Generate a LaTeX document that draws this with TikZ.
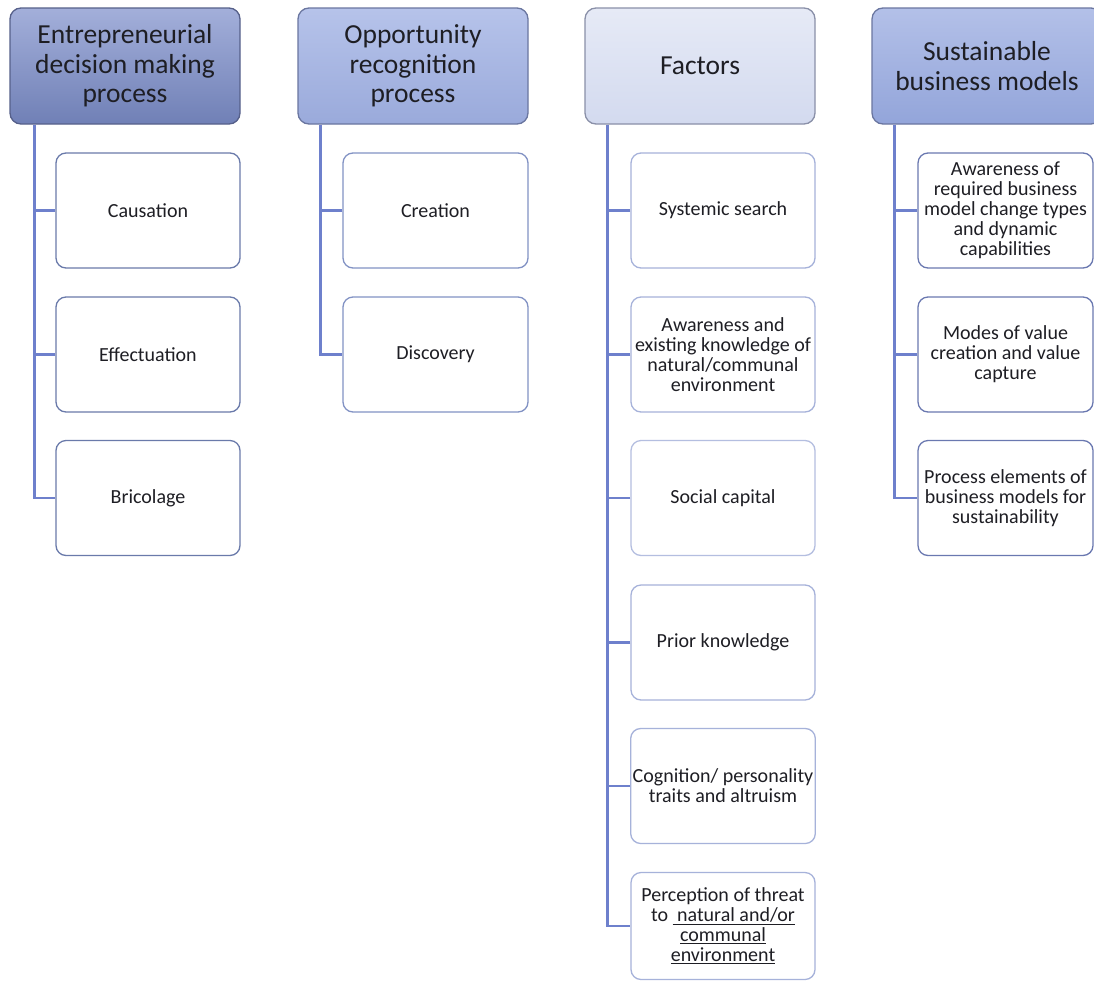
\documentclass[tikz,border=0pt]{standalone}
\usepackage{fontspec}
\setmainfont{Carlito}
\definecolor{lineblue}{HTML}{6E80CC}
\definecolor{txt}{HTML}{1E1E24}
\definecolor{hbA}{HTML}{56608A}\definecolor{htA}{HTML}{A3AFDA}\definecolor{hmA}{HTML}{7080B6}
\definecolor{hbB}{HTML}{6A76A0}\definecolor{htB}{HTML}{B6C3EA}\definecolor{hmB}{HTML}{9AAADB}
\definecolor{hbC}{HTML}{8A90A8}\definecolor{htC}{HTML}{E6EAF6}\definecolor{hmC}{HTML}{D3DAEF}
\definecolor{htD}{HTML}{B3C0E8}\definecolor{hmD}{HTML}{93A5DA}
\definecolor{kA}{HTML}{6A7AAA}
\definecolor{kB}{HTML}{8292C4}
\definecolor{kC}{HTML}{A6B2DA}
\definecolor{kCl}{HTML}{B4BEE0}
\definecolor{kD}{HTML}{6A78B0}
\tikzset{
  hdr/.style={rounded corners=11pt, draw=#1, line width=1.3pt, minimum width=230pt, minimum height=116pt,
     align=center, text=txt, inner sep=2pt,
     font=\fontsize{27.5}{29.5}\selectfont},
  kid/.style={rounded corners=10pt, draw=#1, line width=1.3pt, fill=white, minimum height=115pt,
     align=center, text=txt, inner sep=2pt,
     font=\fontsize{20}{20}\selectfont},
  conn/.style={draw=lineblue, line width=2.8pt},
}
\begin{document}
\begin{tikzpicture}[x=1pt,y=-1pt]
\useasboundingbox (0,0) rectangle (1094,980);
\fill[white] (0,0) rectangle (1094,980);
% headers
\node[hdr=hbA, top color=htA, bottom color=hmA] (h1) at (125,66) {Entrepreneurial\\decision making\\process};
\node[hdr=hbB, top color=htB, bottom color=hmB] (h2) at (413,66) {Opportunity\\recognition\\process};
\node[hdr=hbC, top color=htC, bottom color=hmC] (h3) at (700,66) {Factors};
\node[hdr=hbB, top color=htD, bottom color=hmD] (h4) at (987,66) {Sustainable\\business models};
% column 1
\node[kid=kA, minimum width=184pt] (c11) at (148,210.5) {Causation};
\node[kid=kA, minimum width=184pt] (c12) at (148,354.5) {Effectuation};
\node[kid=kA, minimum width=184pt] (c13) at (148,498) {Bricolage};
% column 2
\node[kid=kB, minimum width=185pt] (c21) at (435.5,210.5) {Creation};
\node[kid=kB, minimum width=185pt] (c22) at (435.5,354.5) {Discovery};
% column 3
\node[kid=kC, minimum width=184pt] (c31) at (723,210.5) {Systemic search};
\node[kid=kC, minimum width=184pt] (c32) at (723,354.5) {Awareness and\\existing knowledge of\\natural/communal\\environment};
\node[kid=kCl, minimum width=184pt] (c33) at (723,498) {Social capital};
\node[kid=kC, minimum width=184pt] (c34) at (723,642.5) {Prior knowledge};
\node[kid=kC, minimum width=184pt] (c35) at (723,786) {Cognition/ personality\\traits and altruism};
\node[kid=kC, minimum width=184pt, minimum height=107pt] (c36) at (723,926) {Perception of threat\\to \underline{\ natural and/or}\\\underline{communal}\\\underline{environment}};
% column 4
\node[kid=kD, minimum width=175pt] (c41) at (1005.5,210.5) {Awareness of\\required business\\model change types\\and dynamic\\capabilities};
\node[kid=kD, minimum width=175pt] (c42) at (1005.5,354.5) {Modes of value\\creation and value\\capture};
\node[kid=kD, minimum width=175pt] (c43) at (1005.5,498) {Process elements of\\business models for\\sustainability};
% trunk coordinates
\coordinate (t1) at ([xshift=25pt]h1.south west);
\coordinate (t2) at ([xshift=23pt]h2.south west);
\coordinate (t3) at ([xshift=23pt]h3.south west);
\coordinate (t4) at ([xshift=23pt]h4.south west);
% connectors
\draw[conn] (t1) |- (c13.west);
\draw[conn] (c11.west) -- (c11.west -| t1);
\draw[conn] (c12.west) -- (c12.west -| t1);
\draw[conn] (t2) |- (c22.west);
\draw[conn] (c21.west) -- (c21.west -| t2);
\draw[conn] (t3) |- (c36.west);
\draw[conn] (c31.west) -- (c31.west -| t3);
\draw[conn] (c32.west) -- (c32.west -| t3);
\draw[conn] (c33.west) -- (c33.west -| t3);
\draw[conn] (c34.west) -- (c34.west -| t3);
\draw[conn] (c35.west) -- (c35.west -| t3);
\draw[conn] (t4) |- (c43.west);
\draw[conn] (c41.west) -- (c41.west -| t4);
\draw[conn] (c42.west) -- (c42.west -| t4);
\end{tikzpicture}
\end{document}
